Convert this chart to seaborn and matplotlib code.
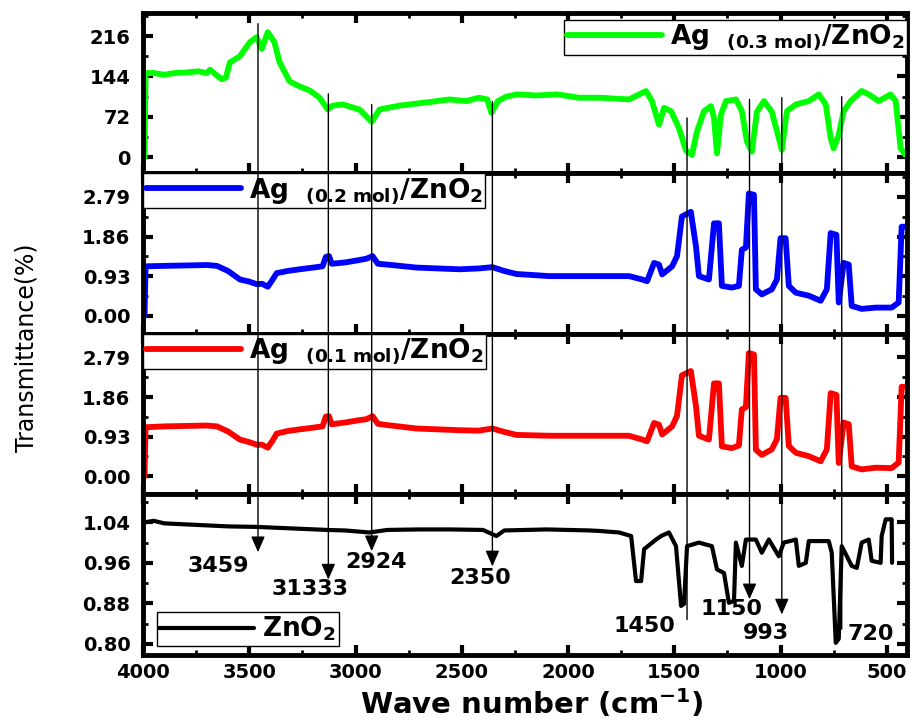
import numpy as np
import pandas as pd
import matplotlib
matplotlib.use("Agg")
import matplotlib.pyplot as plt
from matplotlib.ticker import MultipleLocator, FixedLocator, FormatStrFormatter
from matplotlib.patches import ConnectionPatch
import seaborn as sns

# ---------------- data ----------------
green_wn = [3993, 3988, 3950, 3900, 3850, 3800, 3740, 3700, 3685, 3660, 3629, 3610, 3591, 3544,
            3497, 3465, 3441, 3413, 3382, 3357, 3310, 3263, 3216, 3169, 3131, 3108, 3061, 2981,
            2924, 2887, 2793, 2638, 2558, 2480, 2420, 2380, 2361, 2330, 2290, 2240, 2150, 2050,
            1950, 1850, 1713, 1633, 1605, 1572, 1548, 1515, 1478, 1445, 1417, 1393, 1360, 1327,
            1313, 1299, 1280, 1257, 1210, 1182, 1158, 1135, 1111, 1078, 1041, 1008, 994, 970,
            928, 867, 820, 787, 764, 750, 726, 703, 670, 618, 585, 538, 482, 458, 435, 412]
green_t = [0, 150, 150, 147, 150, 151, 153, 150, 156, 148, 139, 142, 169, 180,
           205, 214, 193, 223, 205, 169, 135, 126, 119, 106, 85, 92, 94, 85,
           63, 85, 92, 99, 103, 100, 106, 103, 79, 100, 108, 112, 110, 112,
           106, 106, 103, 118, 100, 58, 88, 82, 52, 12, 4, 46, 82, 91,
           70, 7, 76, 100, 103, 82, 28, 10, 81, 100, 81, 34, 13, 82,
           94, 100, 112, 94, 34, 16, 40, 82, 100, 118, 112, 100, 112, 100, 16, 4]

blue_wn = [3993, 3988, 3900, 3800, 3700, 3652, 3600, 3544, 3500, 3465, 3440, 3413, 3390, 3371,
           3320, 3263, 3200, 3155, 3140, 3125, 3112, 3050, 2990, 2948, 2920, 2895, 2850, 2713,
           2511, 2420, 2356, 2300, 2243, 2088, 1900, 1713, 1651, 1628, 1595, 1572, 1557, 1510,
           1487, 1464, 1422, 1398, 1384, 1337, 1313, 1290, 1276, 1229, 1196, 1182, 1163, 1149,
           1125, 1116, 1088, 1041, 1017, 1000, 976, 961, 928, 867, 811, 782, 764, 737,
           726, 703, 679, 665, 618, 552, 477, 444, 430, 407]
blue_t = [0, 1.16, 1.17, 1.18, 1.19, 1.17, 1.05, 0.85, 0.80, 0.74, 0.75, 0.68, 0.85, 1.00,
          1.05, 1.09, 1.13, 1.16, 1.38, 1.40, 1.22, 1.25, 1.30, 1.34, 1.40, 1.22, 1.20, 1.13,
          1.09, 1.11, 1.14, 1.05, 0.98, 0.93, 0.93, 0.93, 0.85, 0.81, 1.24, 1.20, 0.97, 1.16,
          1.40, 2.33, 2.44, 1.63, 0.93, 0.85, 2.17, 2.17, 0.70, 0.66, 0.70, 1.55, 1.60, 2.87,
          2.84, 0.62, 0.50, 0.62, 0.85, 1.82, 1.82, 0.70, 0.54, 0.47, 0.35, 0.62, 1.94, 1.90,
          0.31, 1.24, 1.20, 0.23, 0.16, 0.19, 0.19, 0.31, 2.09, 2.09]

red_wn = [3993, 3988, 3900, 3800, 3700, 3652, 3600, 3544, 3500, 3465, 3440, 3413, 3390, 3371,
          3320, 3263, 3200, 3155, 3140, 3125, 3112, 3050, 2990, 2948, 2920, 2895, 2850, 2713,
          2511, 2420, 2356, 2300, 2243, 2088, 1900, 1713, 1651, 1628, 1595, 1572, 1557, 1510,
          1487, 1464, 1422, 1398, 1384, 1337, 1313, 1290, 1276, 1229, 1196, 1182, 1163, 1149,
          1125, 1116, 1088, 1041, 1017, 1000, 976, 961, 928, 867, 811, 782, 764, 737,
          726, 703, 679, 665, 618, 552, 477, 444, 430, 407]
red_t = [0, 1.15, 1.17, 1.18, 1.19, 1.17, 1.05, 0.86, 0.80, 0.74, 0.74, 0.67, 0.84, 1.00,
         1.06, 1.10, 1.14, 1.17, 1.40, 1.41, 1.22, 1.26, 1.31, 1.34, 1.41, 1.23, 1.20, 1.12,
         1.08, 1.07, 1.12, 1.04, 0.97, 0.95, 0.95, 0.95, 0.86, 0.82, 1.25, 1.21, 0.98, 1.17,
         1.42, 2.37, 2.47, 1.65, 0.95, 0.86, 2.18, 2.18, 0.70, 0.66, 0.72, 1.57, 1.62, 2.89,
         2.86, 0.62, 0.50, 0.63, 0.87, 1.84, 1.84, 0.71, 0.55, 0.47, 0.35, 0.63, 1.95, 1.91,
         0.31, 1.26, 1.22, 0.23, 0.16, 0.20, 0.19, 0.32, 2.10, 2.10]

zno2_wn = [3990, 3950, 3900, 3800, 3700, 3600, 3465, 3300, 3133, 3050, 2934, 2850, 2700, 2558,
           2400, 2337, 2300, 2100, 1900, 1853, 1760, 1703, 1680, 1656, 1642, 1586, 1562, 1525,
           1492, 1468, 1454, 1440, 1384, 1323, 1299, 1266, 1243, 1219, 1210, 1182, 1163, 1116,
           1088, 1055, 1008, 985, 928, 914, 881, 867, 773, 759, 740, 726, 712, 665,
           641, 618, 585, 571, 529, 524, 505, 477, 475]
zno2_t = [1.040, 1.043, 1.038, 1.036, 1.034, 1.032, 1.031, 1.028, 1.025, 1.024, 1.020, 1.025, 1.026, 1.026,
          1.025, 1.013, 1.024, 1.026, 1.024, 1.023, 1.020, 1.013, 0.924, 0.924, 0.987, 1.006, 1.013, 1.020,
          0.993, 0.875, 0.879, 0.993, 1.000, 0.993, 0.947, 0.940, 0.881, 0.885, 1.000, 0.954, 1.006, 1.006,
          0.980, 1.006, 0.973, 1.000, 1.006, 0.954, 0.960, 1.003, 1.003, 0.980, 0.802, 0.810, 0.993, 0.954,
          0.950, 1.000, 1.006, 0.964, 0.960, 1.013, 1.046, 1.046, 0.960]

series_labels = [r"$\mathbf{Ag}\ \ _{\mathbf{(0.3\ mol)}}\mathbf{/ZnO}_{\mathbf{2}}$",
                 r"$\mathbf{Ag}\ \ _{\mathbf{(0.2\ mol)}}\mathbf{/ZnO}_{\mathbf{2}}$",
                 r"$\mathbf{Ag}\ \ _{\mathbf{(0.1\ mol)}}\mathbf{/ZnO}_{\mathbf{2}}$",
                 r"$\mathbf{ZnO}_{\mathbf{2}}$"]

yticks_top = [0, 72, 144, 216]
yticks_mid = [0.00, 0.93, 1.86, 2.79]
yticks_bot = [0.80, 0.88, 0.96, 1.04]
xticks = [4000, 3500, 3000, 2500, 2000, 1500, 1000, 500]

peak_labels = ["3459", "31333", "2924", "2350", "1450", "1150", "993", "720"]
peak_wn = [3459, 3128, 2924, 2356, 1440, 1146, 994, 712]

# ---------------- style ----------------
sns.set_style("ticks")
plt.rcParams["font.family"] = ["DejaVu Sans"]
plt.rcParams["mathtext.fontset"] = "dejavusans"
plt.rcParams["xtick.color"] = "black"
plt.rcParams["ytick.color"] = "black"
plt.rcParams["xtick.labelcolor"] = "black"
plt.rcParams["ytick.labelcolor"] = "black"
plt.rcParams["text.color"] = "black"

fig, axes = plt.subplots(4, 1, sharex=True, figsize=(9.14, 7.22), dpi=100,
                         gridspec_kw=dict(hspace=0))
fig.subplots_adjust(left=0.1565, right=0.9923, top=0.982, bottom=0.0928)

series = [(green_wn, green_t, "#00ff00"), (blue_wn, blue_t, "#0000ff"),
          (red_wn, red_t, "#ff0000"), (zno2_wn, zno2_t, "#000000")]
lws = [4.2, 4.2, 4.2, 3.0]
ylims = [(-29, 257), (-0.43, 3.34), (-0.43, 3.34), (0.778, 1.095)]
yticks = [yticks_top, yticks_mid, yticks_mid, yticks_bot]
yminor = [36, 0.465, 0.465, 0.04]
yfmt = ["%d", "%.2f", "%.2f", "%.2f"]

for i, ax in enumerate(axes):
    wn, t, col = series[i]
    df = pd.DataFrame({"wn": wn, "t": t})
    sns.lineplot(data=df, x="wn", y="t", ax=ax, sort=False, estimator=None,
                 color=col, lw=lws[i], label=series_labels[i])
    ax.set_ylim(*ylims[i])
    ax.yaxis.set_major_locator(FixedLocator(yticks[i]))
    ax.yaxis.set_minor_locator(MultipleLocator(yminor[i]))
    ax.yaxis.set_major_formatter(FormatStrFormatter(yfmt[i]))
    ax.set_ylabel("")
    ax.set_xlabel("")
    for s in ax.spines.values():
        s.set_visible(True)
        s.set_linewidth(3.5)
        s.set_color("black")
    ax.tick_params(which="major", direction="in", length=7, width=3,
                   top=True, right=True, labelsize=14, pad=9,
                   colors="black", labelcolor="black")
    ax.tick_params(which="minor", direction="in", length=3.5, width=2,
                   top=True, right=True, colors="black")
    for lab in ax.get_yticklabels():
        lab.set_fontweight("bold")

axes[-1].set_xlim(4000, 405)
axes[-1].xaxis.set_major_locator(FixedLocator(xticks))
axes[-1].xaxis.set_minor_locator(MultipleLocator(250))
axes[-1].tick_params(axis="x", pad=6)
for lab in axes[-1].get_xticklabels():
    lab.set_fontweight("bold")

# legends
leg_kw = dict(frameon=True, fancybox=False, framealpha=1, edgecolor="black",
              fontsize=19, handlelength=3.6, handletextpad=0.3, borderpad=0.1)
l0 = axes[0].legend(loc="upper right", bbox_to_anchor=(1.0, 0.956), borderaxespad=0, **leg_kw)
l1 = axes[1].legend(loc="upper left", bbox_to_anchor=(0.0, 1.0), borderaxespad=0, **leg_kw)
l2 = axes[2].legend(loc="upper left", bbox_to_anchor=(0.0, 1.0), borderaxespad=0, **leg_kw)
l3 = axes[3].legend(loc="lower left", bbox_to_anchor=(0.018, 0.056), borderaxespad=0, **leg_kw)
for lg in (l0, l1, l2, l3):
    lg.get_frame().set_linewidth(1.0)
    for txt in lg.get_texts():
        txt.set_color("black")

# peak marker lines spanning all panels
line_top = [238, 113, 94, 99, 70, 103, 106, 108]
line_bot = [0.981, 0.927, 0.983, 0.953, 0.848, 0.888, 0.858, 0.829]
with_head = [True, True, True, True, False, True, True, False]
for wn, yt, yb, hd in zip(peak_wn, line_top, line_bot, with_head):
    style = "-|>,head_length=0.8,head_width=0.35" if hd else "-"
    con = ConnectionPatch(xyA=(wn, yt), coordsA=axes[0].transData,
                          xyB=(wn, yb), coordsB=axes[3].transData,
                          arrowstyle=style, mutation_scale=12, lw=1.0,
                          color="black", shrinkA=0, shrinkB=0)
    fig.add_artist(con)

label_x = [3648, 3216, 2906, 2412, 1642, 1233, 1069, 576]
label_y = [0.953, 0.908, 0.961, 0.931, 0.835, 0.868, 0.821, 0.819]
for txt, lx, ly in zip(peak_labels, label_x, label_y):
    axes[3].text(lx, ly, txt, ha="center", va="center", fontsize=16,
                 fontweight="bold", color="black", zorder=5)

fig.text(532 / 914, 1 - 704 / 722, r"Wave number (cm$^{\mathbf{-1}}$)", ha="center",
         va="center", fontsize=21, fontweight="bold")
fig.text(27 / 914, 1 - 348 / 722, "Transmittance(%)", rotation=90, ha="center",
         va="center", fontsize=17)

fig.savefig("out.png", dpi=100)
